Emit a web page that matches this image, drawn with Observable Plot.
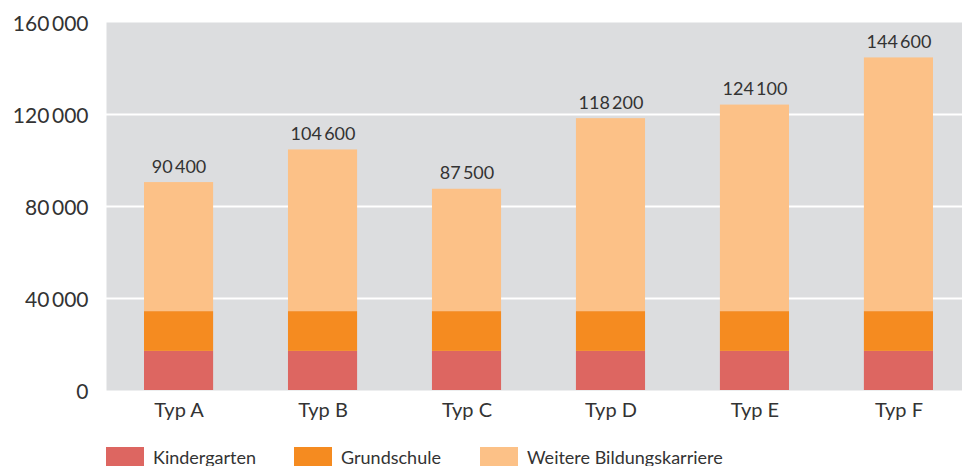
<!DOCTYPE html>
<html>
<head>
<meta charset="utf-8">
<script src="https://cdn.jsdelivr.net/npm/d3@7"></script>
<script src="https://cdn.jsdelivr.net/npm/@observablehq/plot@0.6"></script>
<style>
  body { margin: 0; background: #fff; font-family: Lato, "Noto Sans", sans-serif; color: #333; }
  #chart svg { display: block; }
  .legend { position: relative; height: 36px; margin-top: 17px; font-size: 18px; }
  .item { position: absolute; top: 0; display: flex; align-items: flex-start; line-height: 20px; }
  .sw { width: 38px; height: 19px; margin-right: 9px; }
</style>
</head>
<body>
<div id="chart"></div>
<div class="legend" id="legend"></div>
<script>
const types = ["Typ A", "Typ B", "Typ C", "Typ D", "Typ E", "Typ F"];
const series = ["Kindergarten", "Grundschule", "Weitere Bildungskarriere"];
const kindergarten = [17000, 17000, 17000, 17000, 17000, 17000];
const grundschule = [17300, 17300, 17300, 17300, 17300, 17300];
const weitere = [56100, 70300, 53200, 83900, 89800, 110300];
const totals = [90400, 104600, 87500, 118200, 124100, 144600];
const yTicks = [0, 40000, 80000, 120000, 160000];
const colors = ["#dd6661", "#f58b20", "#fcc187"];

const fmt = v => d3.format(",")(v).replace(/,/g, "\u2009");

const rows = [];
types.forEach((t, i) => {
  rows.push({type: t, series: series[0], value: kindergarten[i]});
  rows.push({type: t, series: series[1], value: grundschule[i]});
  rows.push({type: t, series: series[2], value: weitere[i]});
});
const totalRows = types.map((t, i) => ({type: t, total: totals[i]}));

const plot = Plot.plot({
  width: 962,
  height: 430,
  marginLeft: 106,
  marginRight: 0,
  marginTop: 22,
  marginBottom: 40,
  style: {fontFamily: "Lato, 'Noto Sans', sans-serif", color: "#333", background: "#fff"},
  x: {domain: types, range: [106, 971], paddingInner: 0.52, paddingOuter: 0.264, round: false, label: null},
  y: {domain: [0, 160000], label: null},
  color: {domain: series, range: colors},
  marks: [
    Plot.frame({fill: "#dcdddf", stroke: null}),
    Plot.ruleY(yTicks.filter(d => d > 0 && d < 160000), {stroke: "#fff", strokeWidth: 2}),
    Plot.barY(rows, {x: "type", y: "value", fill: "series", order: series}),
    Plot.text(totalRows, {x: "type", y: "total", text: d => fmt(d.total), lineAnchor: "bottom", dy: -10, fontSize: 18, fill: "#333"}),
    Plot.axisY(yTicks, {tickSize: 0, tickPadding: 18, fontSize: 21, tickFormat: fmt, dy: 2, fill: "#333"}),
    Plot.axisX({tickSize: 0, tickPadding: 12, fontSize: 20, fill: "#333"})
  ]
});
document.getElementById("chart").appendChild(plot);

const legend = document.getElementById("legend");
const lefts = [106, 294, 480];
series.forEach((s, i) => {
  const it = document.createElement("div");
  it.className = "item";
  it.style.left = lefts[i] + "px";
  it.innerHTML = `<div class="sw" style="background:${colors[i]}"></div><span>${s}</span>`;
  legend.appendChild(it);
});
</script>
</body>
</html>
